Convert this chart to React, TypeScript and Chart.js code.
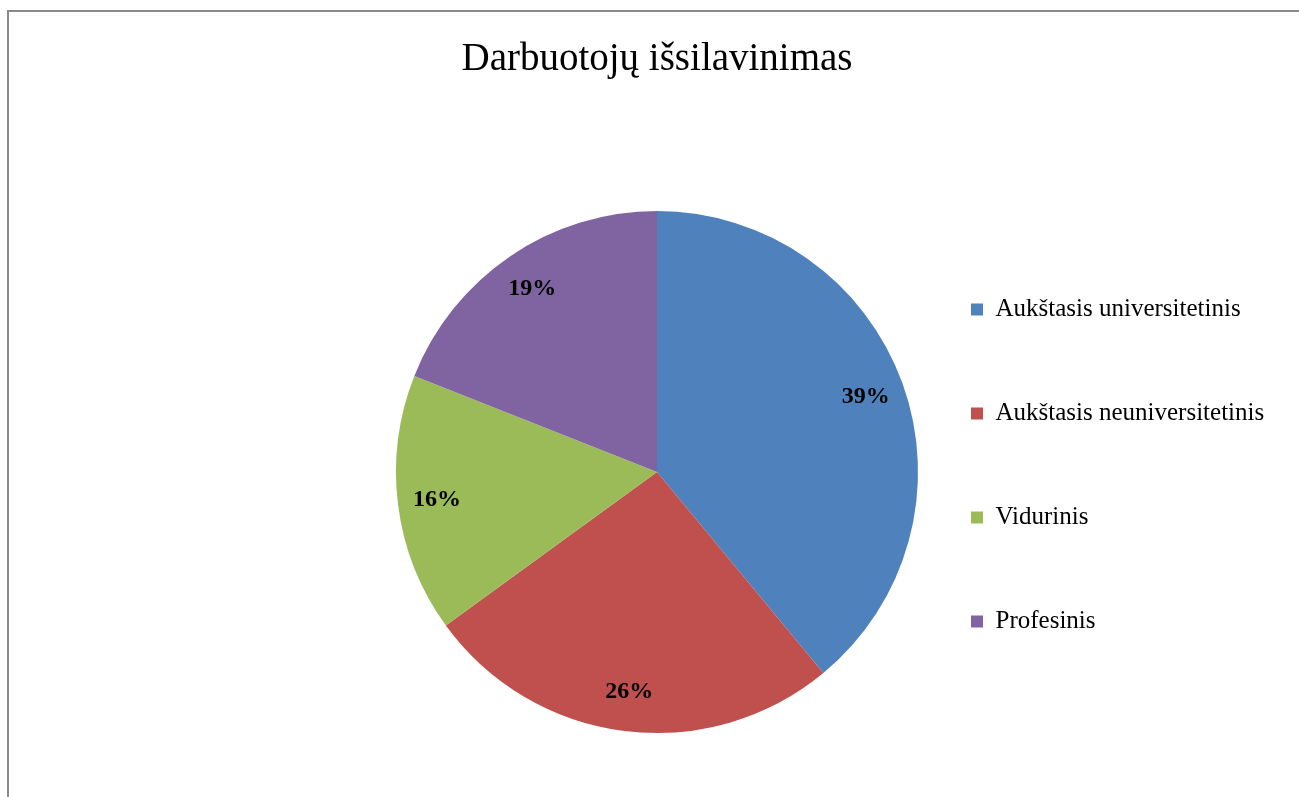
import React, { useEffect, useRef } from 'react';
import { Chart, registerables } from 'chart.js';

Chart.register(...registerables);

const TITLE = 'Darbuotojų išsilavinimas';
const categories = [
  'Aukštasis universitetinis',
  'Aukštasis neuniversitetinis',
  'Vidurinis',
  'Profesinis',
];
const values = [39, 26, 16, 19];
const colors = ['#4F81BD', '#C0504D', '#9BBB59', '#8064A2'];

const FONT = "'Liberation Serif', 'Times New Roman', Times, serif";
const CANVAS_W = 1290;
const CANVAS_H = 785;
const LEGEND_FONT = 25;
const LEGEND_PAD = 79;
const BOX = 12;
const PIE_RADIUS = 261;
const AREA_LEFT = 413;
const AREA_RIGHT = 883;

const pctLabels = {
  id: 'pctLabels',
  afterDatasetsDraw(chart: any) {
    const meta = chart.getDatasetMeta(0);
    const data = chart.data.datasets[0].data as number[];
    const total = data.reduce((a, b) => a + b, 0);
    const ctx = chart.ctx;
    ctx.save();
    ctx.font = `bold 24px ${FONT}`;
    ctx.fillStyle = '#000000';
    ctx.textAlign = 'center';
    ctx.textBaseline = 'middle';
    meta.data.forEach((arc: any, i: number) => {
      const p = arc.getProps(['x', 'y', 'startAngle', 'endAngle', 'outerRadius'], true);
      const mid = (p.startAngle + p.endAngle) / 2;
      const r = p.outerRadius * 0.85;
      ctx.fillText(
        Math.round((data[i] / total) * 100) + '%',
        p.x + Math.cos(mid) * r,
        p.y + Math.sin(mid) * r
      );
    });
    ctx.restore();
  },
};

export default function App() {
  const ref = useRef<HTMLCanvasElement>(null);

  useEffect(() => {
    const canvas = ref.current;
    if (!canvas) return;
    const mctx = canvas.getContext('2d')!;
    mctx.font = `${LEGEND_FONT}px ${FONT}`;
    const textW = Math.max(...categories.map((c) => mctx.measureText(c).width));
    const legendW = LEGEND_PAD + BOX + LEGEND_FONT / 2 + textW + 10;
    const padRight = CANVAS_W - AREA_RIGHT - legendW;

    const chart = new Chart(canvas, {
      type: 'pie',
      data: {
        labels: categories,
        datasets: [
          {
            data: values,
            backgroundColor: colors,
            borderWidth: 0,
            radius: PIE_RADIUS,
            clip: false,
          } as any,
        ],
      },
      options: {
        responsive: false,
        animation: false,
        events: [],
        layout: {
          padding: { left: AREA_LEFT, right: padRight, top: 0, bottom: 71 },
        },
        plugins: {
          title: {
            display: true,
            text: TITLE,
            fullSize: false,
            color: '#000000',
            font: { family: FONT, size: 39, weight: 'normal' },
            padding: { top: 24, bottom: 135.2 },
          },
          legend: {
            display: true,
            position: 'right',
            align: 'start',
            fullSize: false,
            labels: {
              boxWidth: BOX,
              boxHeight: BOX,
              padding: LEGEND_PAD,
              color: '#000000',
              font: { family: FONT, size: LEGEND_FONT },
            },
          },
          tooltip: { enabled: false },
        },
      } as any,
      plugins: [pctLabels],
    });
    return () => chart.destroy();
  }, []);

  return (
    <div
      style={{
        position: 'fixed',
        left: 0,
        top: 0,
        width: 1299,
        height: 797,
        overflow: 'hidden',
        background: '#ffffff',
      }}
    >
      <div
        style={{
          position: 'absolute',
          left: 7,
          top: 10,
          width: 1400,
          height: 900,
          borderLeft: '2px solid #898989',
          borderTop: '2px solid #898989',
        }}
      >
        <canvas
          ref={ref}
          width={CANVAS_W}
          height={CANVAS_H}
          style={{ display: 'block', width: CANVAS_W, height: CANVAS_H }}
        />
      </div>
    </div>
  );
}
